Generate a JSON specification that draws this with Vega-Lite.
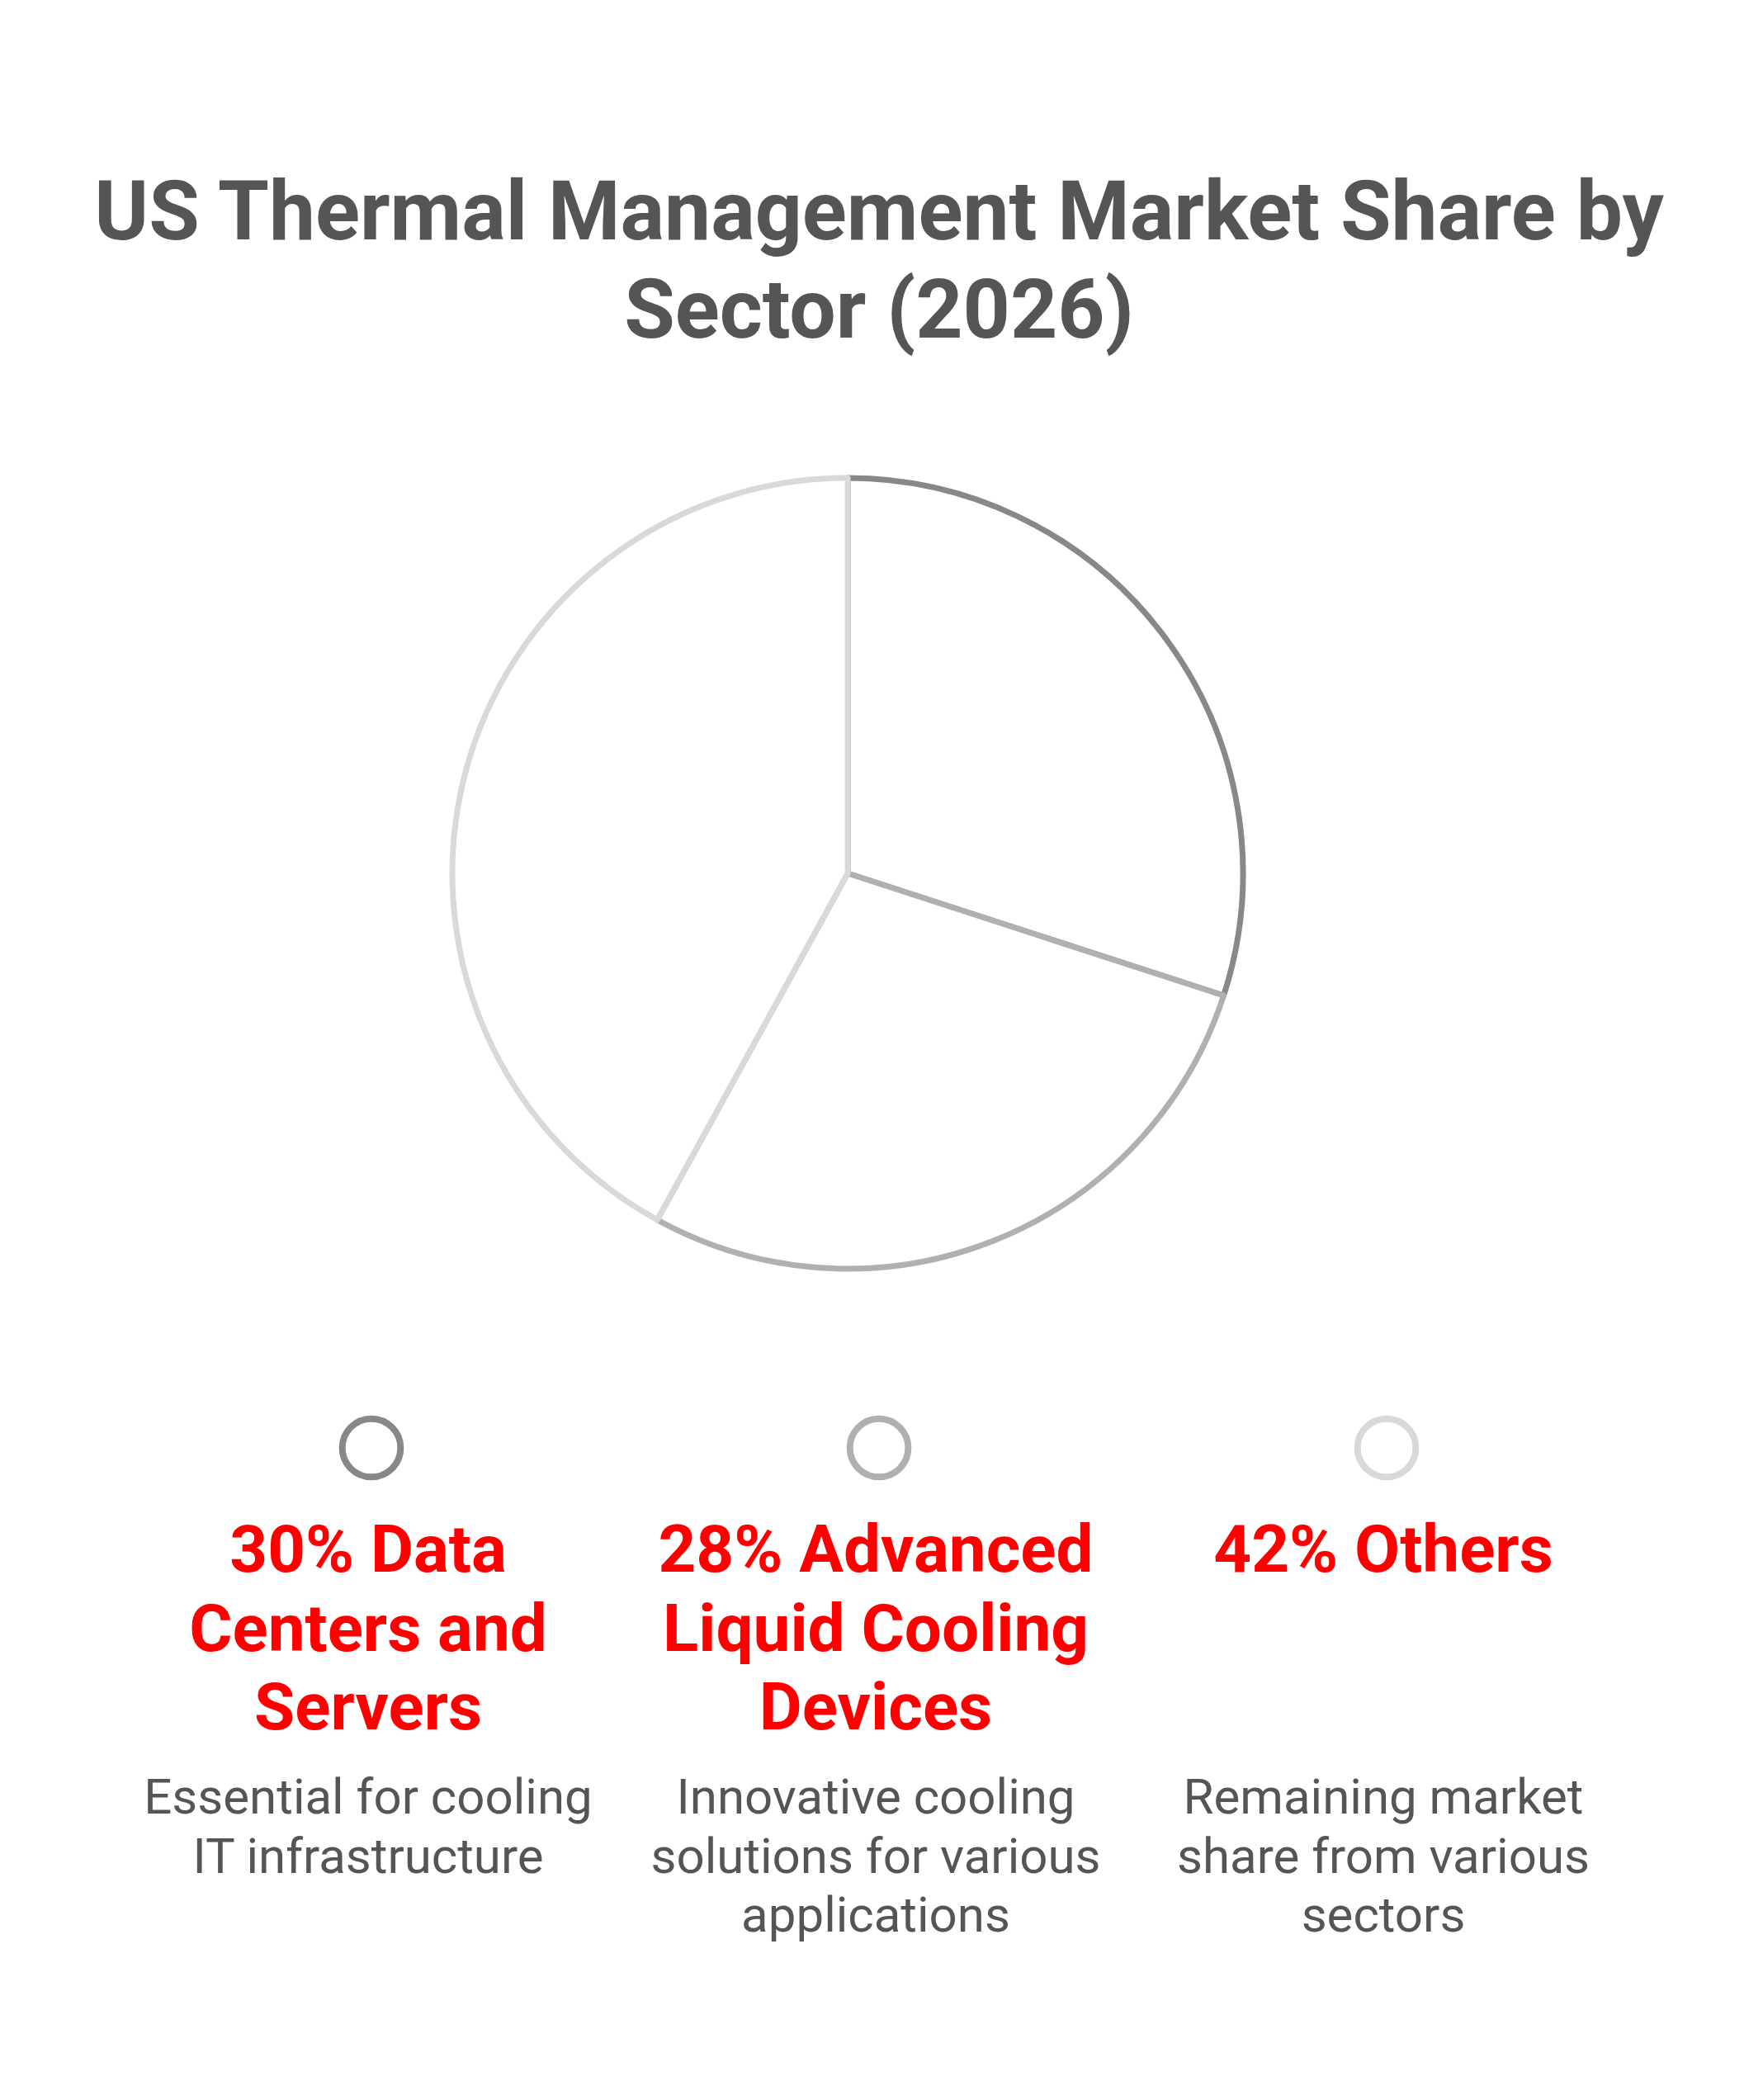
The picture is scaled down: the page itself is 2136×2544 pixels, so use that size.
{
  "$schema": "https://vega.github.io/schema/vega-lite/v6.json",
  "background": "white",
  "padding": {"top": 209, "left": 0, "right": 0, "bottom": 0},
  "datasets": {
    "sectors": [
      {"sector": "Data Centers and Servers", "rank": 1, "share": 30, "label": "30% Data\nCenters and\nServers", "desc": "Essential for cooling\nIT infrastructure"},
      {"sector": "Advanced Liquid Cooling Devices", "rank": 2, "share": 28, "label": "28% Advanced\nLiquid Cooling\nDevices", "desc": "Innovative cooling\nsolutions for various\napplications"},
      {"sector": "Others", "rank": 3, "share": 42, "label": "42% Others", "desc": "Remaining market\nshare from various\nsectors"}
    ]
  },
  "title": {
    "text": ["US Thermal Management Market Share by", "Sector (2026)"],
    "anchor": "middle",
    "font": "Roboto",
    "fontSize": 100,
    "fontWeight": "bold",
    "color": "#555555",
    "lineHeight": 119.5,
    "offset": 18
  },
  "spacing": 0,
  "config": {"view": {"stroke": null}},
  "vconcat": [
    {
      "width": 2054,
      "height": 1220,
      "data": {"name": "sectors"},
      "mark": {"type": "arc", "radius": 479, "fill": "white", "strokeWidth": 7, "strokeJoin": "round"},
      "encoding": {
        "theta": {"field": "share", "type": "quantitative", "stack": true},
        "order": {"field": "rank", "type": "quantitative"},
        "stroke": {
          "field": "sector", "type": "nominal",
          "scale": {"domain": ["Data Centers and Servers", "Advanced Liquid Cooling Devices", "Others"], "range": ["#888888", "#b0b0b0", "#d9d9d9"]},
          "legend": null
        }
      }
    },
    {
      "width": 2130,
      "height": 172,
      "data": {"name": "sectors"},
      "mark": {"type": "point", "shape": "circle", "filled": false, "size": 5000, "strokeWidth": 8, "opacity": 1},
      "encoding": {
        "x": {"field": "sector", "type": "nominal", "sort": null, "scale": {"padding": 0.7317}, "axis": null},
        "stroke": {
          "field": "sector", "type": "nominal",
          "scale": {"domain": ["Data Centers and Servers", "Advanced Liquid Cooling Devices", "Others"], "range": ["#888888", "#b0b0b0", "#d9d9d9"]},
          "legend": null
        }
      }
    },
    {
      "width": 2130,
      "height": 308,
      "data": {"name": "sectors"},
      "mark": {"type": "text", "baseline": "top", "align": "center", "font": "Roboto", "fontWeight": "bold", "fontSize": 80, "lineHeight": 95.5, "lineBreak": "\n", "fill": "#ff0000", "dx": -4},
      "encoding": {
        "x": {"field": "sector", "type": "nominal", "sort": null, "scale": {"padding": 0.7317}, "axis": null},
        "y": {"value": 0},
        "text": {"field": "label", "type": "nominal"}
      }
    },
    {
      "width": 2130,
      "height": 398,
      "data": {"name": "sectors"},
      "mark": {"type": "text", "baseline": "top", "align": "center", "font": "Roboto", "fontSize": 60, "lineHeight": 71.7, "lineBreak": "\n", "fill": "#555555", "dx": -4},
      "encoding": {
        "x": {"field": "sector", "type": "nominal", "sort": null, "scale": {"padding": 0.7317}, "axis": null},
        "y": {"value": 0},
        "text": {"field": "desc", "type": "nominal"}
      }
    }
  ]
}
